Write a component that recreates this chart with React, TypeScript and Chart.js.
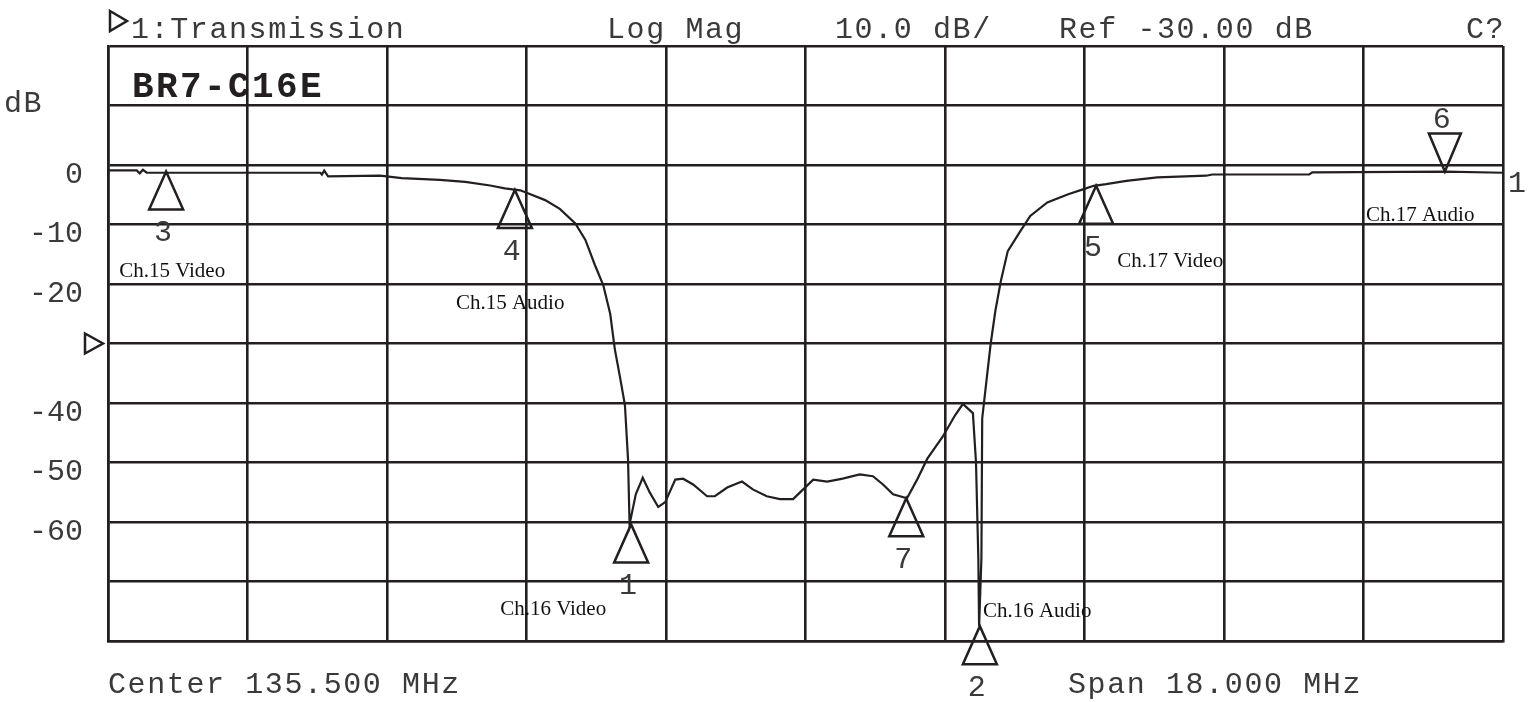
import React, { useEffect, useRef } from "react";
import { Chart, registerables } from "chart.js";

Chart.register(...registerables);

// ---- Data ----
const freqMHz = [
  126.5, 126.87, 126.91, 126.95, 127.0, 129.24, 129.26, 129.29, 129.34, 130.01,
  130.29, 130.78, 131.11, 131.43, 131.62, 131.82, 131.95, 132.14, 132.33, 132.53,
  132.66, 132.78, 132.89, 132.98, 133.04, 133.11, 133.17, 133.21, 133.23, 133.31,
  133.4, 133.49, 133.6, 133.69, 133.82, 133.92, 134.05, 134.23, 134.33, 134.49,
  134.68, 134.82, 135.0, 135.17, 135.34, 135.43, 135.6, 135.78, 135.98, 136.2,
  136.37, 136.5, 136.63, 136.81, 136.94, 137.07, 137.27, 137.43, 137.53, 137.66,
  137.7, 137.73, 137.74, 137.77, 137.78, 137.84, 137.89, 137.95, 138.02, 138.11,
  138.26, 138.4, 138.62, 138.89, 139.09, 139.22, 139.38, 139.64, 140.04, 140.67,
  140.75, 142.0, 142.04, 143.76, 144.5,
];
const magDb = [
  -0.9, -0.9, -1.4, -0.8, -1.3, -1.3, -1.6, -0.95, -1.9, -1.8,
  -2.2, -2.5, -2.85, -3.44, -3.93, -4.26, -4.92, -5.9, -7.38, -9.84,
  -12.59, -16.72, -20.17, -25.0, -30.98, -35.9, -40.34, -49.48, -60.4, -55.35,
  -52.56, -55.02, -57.48, -56.66, -52.88, -52.72, -53.7, -55.67, -55.67, -54.2,
  -53.2, -54.52, -55.67, -56.16, -56.16, -55.02, -52.88, -53.2, -52.72, -52.0,
  -52.3, -53.7, -55.35, -56.0, -52.88, -49.4, -45.66, -42.06, -40.17, -41.7,
  -50.0, -66.0, -77.5, -66.0, -42.6, -35.7, -30.0, -24.5, -19.55, -14.47,
  -11.38, -8.57, -6.3, -4.91, -4.05, -3.5, -3.21, -2.66, -2.08, -1.8,
  -1.6, -1.6, -1.25, -1.1, -1.3,
];

const markerIds = ["1", "2", "3", "4", "5", "6", "7"];
const markerFreq = [133.25, 137.75, 127.25, 131.75, 139.25, 143.75, 136.8];
const markerDb = [-60.4, -77.5, -1.1, -4.2, -3.5, -1.1, -56.0];
const markerNames = ["Ch.16 Video", "Ch.16 Audio", "Ch.15 Video", "Ch.15 Audio", "Ch.17 Video", "Ch.17 Audio", ""];

const centerMHz = 135.5;
const spanMHz = 18;
const refLevelDb = -30;
const dbPerDiv = 10;
const divisions = 10;
const yLabeled = [0, -10, -20, -40, -50, -60];

// ---- Styling / layout (not data) ----
const GRID = "#231f20";
const TEXT = "#3a3a3a";
const MONO = '"Liberation Mono", "DejaVu Sans Mono", monospace';
const SERIF = '"Liberation Serif", "DejaVu Serif", serif';
// pixel offsets of the name labels relative to marker tips: [dx(left), dy(center)]
const nameOffsets: [number, number][] = [
  [-131, 85], [3, -15], [-47, 100], [-59, 113], [21, 76], [-79, 44], [0, 0],
];

const xMin = centerMHz - spanMHz / 2;
const xMax = centerMHz + spanMHz / 2;
const yMax = refLevelDb + (dbPerDiv * divisions) / 2;
const yMin = refLevelDb - (dbPerDiv * divisions) / 2;

const overlay = {
  id: "overlay",
  afterDraw(chart: any) {
    const { ctx, scales } = chart;
    const x = scales.x;
    const y = scales.y;
    ctx.save();

    // header
    ctx.fillStyle = TEXT;
    ctx.font = `30px ${MONO}`;
    (ctx as any).letterSpacing = "1.6px";
    ctx.textAlign = "left";
    ctx.textBaseline = "alphabetic";
    ctx.fillText("1:Transmission", 131, 38);
    ctx.fillText("Log Mag", 607, 38);
    ctx.fillText(`${dbPerDiv.toFixed(1)} dB/`, 835, 38);
    ctx.fillText(`Ref ${refLevelDb.toFixed(2)} dB`, 1059, 38);
    ctx.fillText("C?", 1466, 38);
    ctx.fillText("dB", 4, 112);
    ctx.fillText("1", 1508, 192);
    ctx.fillText(`Center ${centerMHz.toFixed(3)} MHz`, 108, 693);
    ctx.fillText(`Span ${spanMHz.toFixed(3)} MHz`, 1068, 693);

    // title
    ctx.fillStyle = GRID;
    ctx.font = `bold 36px ${MONO}`;
    (ctx as any).letterSpacing = "2.4px";
    ctx.fillText("BR7-C16E", 132, 97);
    (ctx as any).letterSpacing = "0px";

    ctx.strokeStyle = GRID;
    ctx.lineWidth = 2.5;
    ctx.lineJoin = "miter";

    // active channel triangle
    ctx.beginPath();
    ctx.moveTo(110, 11);
    ctx.lineTo(127, 21);
    ctx.lineTo(110, 31);
    ctx.closePath();
    ctx.stroke();

    // reference level triangle
    const ry = y.getPixelForValue(refLevelDb);
    ctx.beginPath();
    ctx.moveTo(85, ry - 10);
    ctx.lineTo(103, ry);
    ctx.lineTo(85, ry + 10);
    ctx.closePath();
    ctx.stroke();

    // markers
    for (let i = 0; i < markerIds.length; i++) {
      const px = x.getPixelForValue(markerFreq[i]);
      const py = y.getPixelForValue(markerDb[i]);
      const down = markerIds[i] === "6";
      ctx.beginPath();
      if (down) {
        ctx.moveTo(px, py);
        ctx.lineTo(px - 16, py - 38);
        ctx.lineTo(px + 16, py - 38);
      } else {
        ctx.moveTo(px, py);
        ctx.lineTo(px - 17, py + 38);
        ctx.lineTo(px + 17, py + 38);
      }
      ctx.closePath();
      ctx.stroke();

      ctx.fillStyle = TEXT;
      ctx.font = `30px ${MONO}`;
      ctx.textAlign = "center";
      ctx.textBaseline = "middle";
      ctx.fillText(markerIds[i], px - 3, down ? py - 51 : py + 62);

      if (markerNames[i]) {
        ctx.fillStyle = "#111";
        ctx.font = `21px ${SERIF}`;
        ctx.textAlign = "left";
        ctx.fillText(markerNames[i], px + nameOffsets[i][0], py + nameOffsets[i][1]);
      }
    }
    ctx.restore();
  },
};

export default function App() {
  const ref = useRef<HTMLCanvasElement>(null);
  useEffect(() => {
    document.body.style.margin = "0";
    const xGrid = Array.from({ length: divisions + 1 }, (_, i) => xMin + (spanMHz / divisions) * i);
    const yGrid = Array.from({ length: divisions + 1 }, (_, i) => yMin + dbPerDiv * i);
    const chart = new Chart(ref.current!, {
      type: "line",
      data: {
        datasets: [
          {
            data: freqMHz.map((f, i) => ({ x: f, y: magDb[i] })),
            borderColor: GRID,
            borderWidth: 2.2,
            pointRadius: 0,
            tension: 0,
            fill: false,
          },
        ],
      },
      options: {
        animation: false,
        responsive: false,
        layout: { padding: { left: 0, top: 46, right: 37, bottom: 61 } },
        plugins: { legend: { display: false }, tooltip: { enabled: false } },
        scales: {
          x: {
            type: "linear",
            min: xMin,
            max: xMax,
            afterBuildTicks: (s: any) => {
              s.ticks = xGrid.map((v) => ({ value: v }));
            },
            afterFit: (s: any) => {
              s.height = 0;
            },
            ticks: { display: false },
            grid: { color: GRID, lineWidth: 2.6, drawTicks: false },
            border: { color: GRID, width: 2.6 },
          },
          y: {
            type: "linear",
            min: yMin,
            max: yMax,
            afterBuildTicks: (s: any) => {
              s.ticks = yGrid.map((v) => ({ value: v }));
            },
            afterFit: (s: any) => {
              s.width = 108;
            },
            ticks: {
              callback: (v: any) => (yLabeled.includes(Number(v)) ? String(v) : ""),
              font: { family: MONO, size: 30 },
              color: TEXT,
              padding: 25,
              labelOffset: 10,
            },
            grid: { color: GRID, lineWidth: 2.6, drawTicks: false },
            border: { color: GRID, width: 2.6 },
          },
        },
      },
      plugins: [overlay],
    });
    return () => chart.destroy();
  }, []);
  return (
    <div style={{ width: 1540, height: 702, background: "#fff" }}>
      <canvas ref={ref} width={1540} height={702} />
    </div>
  );
}
